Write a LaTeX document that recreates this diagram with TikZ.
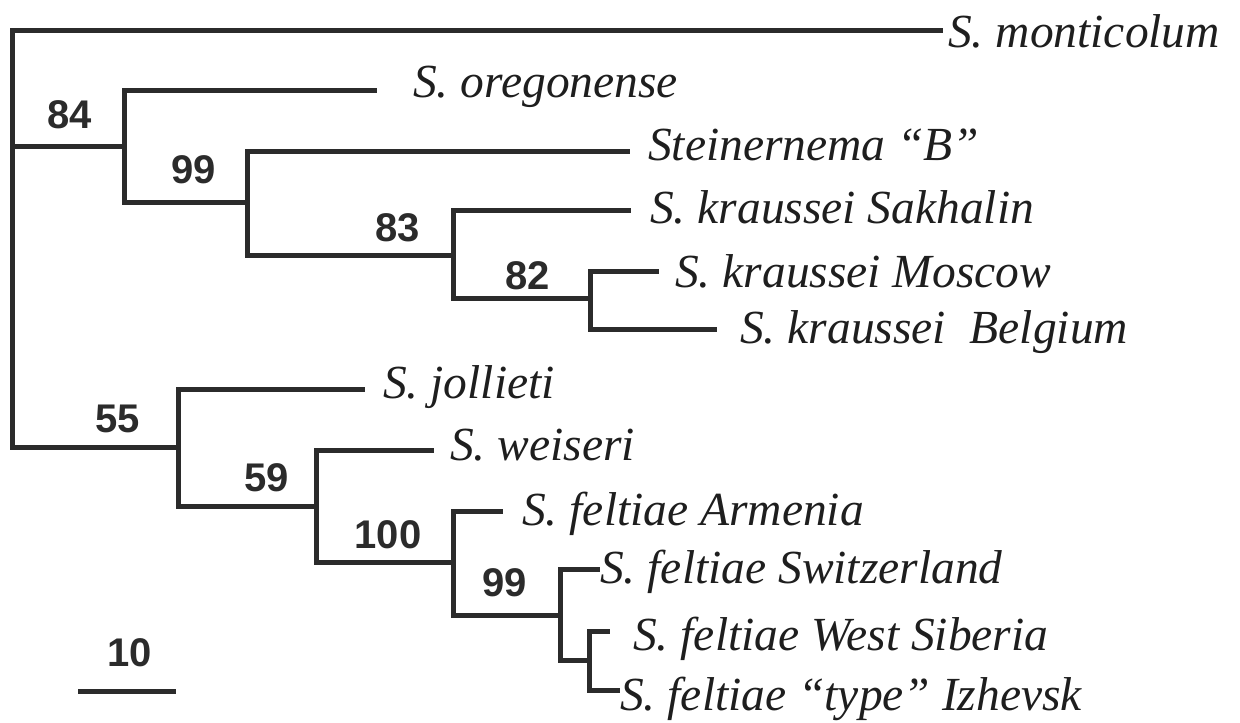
\documentclass[tikz,border=0pt]{standalone}
\usepackage{fontspec}
\setmainfont{Liberation Serif}
\newfontfamily\numfont{Liberation Sans}
\definecolor{ink}{RGB}{43,43,43}
\definecolor{txt}{RGB}{30,30,30}
\tikzset{
  branch/.style={draw=ink, line width=5pt, line join=miter},
  taxon/.style={anchor=base west, inner sep=0pt, text=txt, font=\fontsize{47.5}{50}\selectfont\itshape},
  boot/.style={anchor=center, inner sep=0pt, text=ink, font=\fontsize{40}{42}\selectfont\numfont\bfseries}
}
\begin{document}
\begin{tikzpicture}[x=1pt,y=-1pt]
\useasboundingbox (0,0) rectangle (1240,723);
% internal nodes
\coordinate (root) at (12,238);
\coordinate (n84) at (124,146);
\coordinate (n99a) at (247,202);
\coordinate (n83) at (453,255);
\coordinate (n82) at (590,298);
\coordinate (n55) at (178,447);
\coordinate (n59) at (316,506);
\coordinate (n100) at (453,562);
\coordinate (n99b) at (560,615);
\coordinate (nx) at (589,660);
% tips
\coordinate (tmont) at (943,30);
\coordinate (toreg) at (377,90);
\coordinate (tstb) at (630,151);
\coordinate (tsakh) at (631,210);
\coordinate (tmosc) at (659,271);
\coordinate (tbelg) at (717,329);
\coordinate (tjoll) at (365,389);
\coordinate (tweis) at (434,450);
\coordinate (tarm) at (503,511);
\coordinate (tswi) at (600,569);
\coordinate (twsib) at (610,631);
\coordinate (tizh) at (620,690);
% branches
\draw[branch] (root) |- (tmont);
\draw[branch] (root) |- (n84);
\draw[branch] (root) |- (n55);
\draw[branch] (n84) |- (toreg);
\draw[branch] (n84) |- (n99a);
\draw[branch] (n99a) |- (tstb);
\draw[branch] (n99a) |- (n83);
\draw[branch] (n83) |- (tsakh);
\draw[branch] (n83) |- (n82);
\draw[branch] (n82) |- (tmosc);
\draw[branch] (n82) |- (tbelg);
\draw[branch] (n55) |- (tjoll);
\draw[branch] (n55) |- (n59);
\draw[branch] (n59) |- (tweis);
\draw[branch] (n59) |- (n100);
\draw[branch] (n100) |- (tarm);
\draw[branch] (n100) |- (n99b);
\draw[branch] (n99b) |- (tswi);
\draw[branch] (n99b) |- (nx);
\draw[branch] (nx) |- (twsib);
\draw[branch] (nx) |- (tizh);
% taxon labels
\node[taxon] (lmont) at (948,47) {S. monticolum};
\node[taxon] (loreg) at (413,97) {S. oregonense};
\node[taxon] (lstb) at (648,160) {Steinernema “B”};
\node[taxon] (lsakh) at (650,223) {S. kraussei Sakhalin};
\node[taxon] (lmosc) at (675,287) {S. kraussei Moscow};
\node[taxon] (lbelg) at (740,343) {S. kraussei\ \ Belgium};
\node[taxon] (ljoll) at (383,398) {S. jollieti};
\node[taxon] (lweis) at (450,460) {S. weiseri};
\node[taxon] (larm) at (522,525) {S. feltiae Armenia};
\node[taxon] (lswi) at (600,583) {S. feltiae Switzerland};
\node[taxon] (lwsib) at (633,650) {S. feltiae West Siberia};
\node[taxon] (lizh) at (620,710) {S. feltiae “type” Izhevsk};
% bootstrap values
\node[boot] (b84) at (70,115) {84};
\node[boot] (b99a) at (194,170) {99};
\node[boot] (b83) at (398,228) {83};
\node[boot] (b82) at (528,276) {82};
\node[boot] (b55) at (118,419) {55};
\node[boot] (b59) at (267,478) {59};
\node[boot] (b100) at (388,535) {100};
\node[boot] (b99b) at (505,583) {99};
% scale bar
\coordinate (sb1) at (78,691);
\coordinate (sb2) at (176,691);
\draw[branch] (sb1) -- (sb2);
\node[boot] (sbl) at (130,653) {10};
\end{tikzpicture}
\end{document}
